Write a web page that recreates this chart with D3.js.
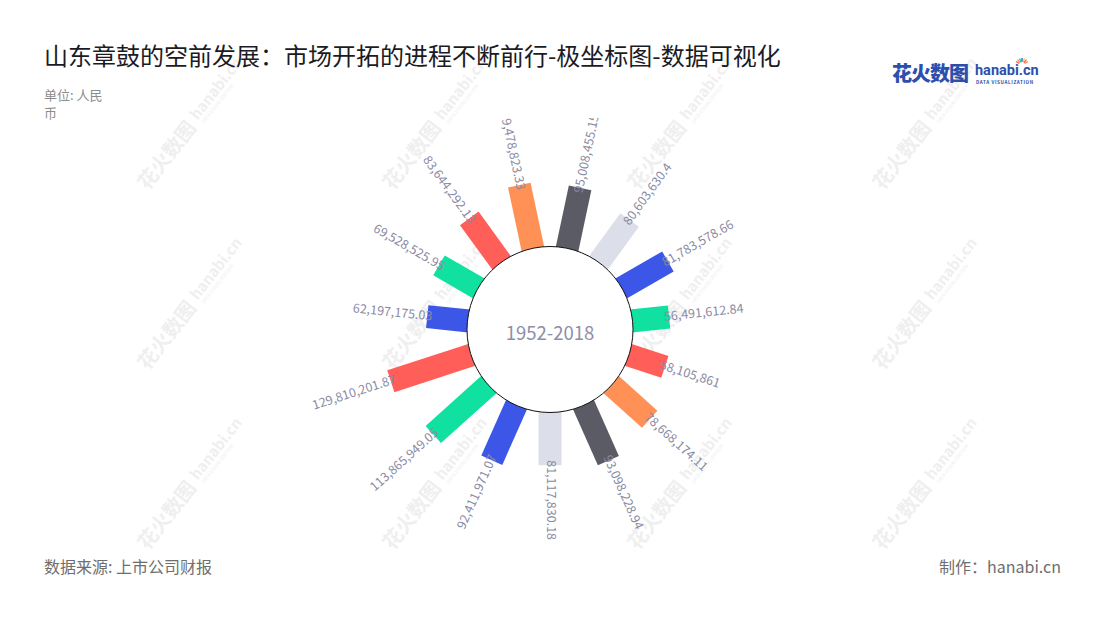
<!DOCTYPE html>
<html>
<head>
<meta charset="utf-8">
<script src="https://cdn.jsdelivr.net/npm/d3@7/dist/d3.min.js"></script>
<style>
  html, body { margin: 0; padding: 0; background: #fff; }
  svg { display: block; font-family: "Noto Sans CJK SC", "Noto Sans", sans-serif; }
</style>
</head>
<body>
<svg id="chart" width="1100" height="620"></svg>
<script>
// ---- data ----
const categories = d3.range(15).map(i => "item" + (i + 1));
const values = [
  95008455.15, 80603630.4, 81783578.66, 56491612.84, 58105861,
  78668174.11, 93098228.94, 81117830.18, 92411971.07, 113865949.05,
  129810201.87, 62197175.03, 69528525.95, 83644292.13, 99478823.33
];
const centerLabel = "1952-2018";
const titleText = "山东章鼓的空前发展：市场开拓的进程不断前行-极坐标图-数据可视化";
const unitLines = ["单位: 人民", "币"];
const sourceText = "数据来源: 上市公司财报";
const creditText = "制作：hanabi.cn";

// ---- style ----
const palette = ["#5b5b66", "#dcdfe9", "#3c57e8", "#10e1a0", "#ff5f58", "#ff9157",
                 "#5b5b66", "#dcdfe9", "#3c57e8", "#10e1a0", "#ff5f58", "#3c57e8",
                 "#10e1a0", "#ff5f58", "#ff9157"];
const W = 1100, H = 620;
const cx = 550, cy = 329.5;
const innerR = 83;

const svg = d3.select("#chart");

// watermarks
const wm = svg.append("g").attr("class", "watermarks");
const wmX = [180, 425, 670, 915], wmY = [140, 320, 500];
wmX.forEach(x => wmY.forEach(y => {
  const g = wm.append("g").attr("transform", `translate(${x},${y}) rotate(-52)`);
  g.append("text").attr("x", -60).attr("y", 6).attr("font-size", 20).attr("font-weight", 700)
    .attr("fill", "#efefef").text("花火数图");
  g.append("text").attr("x", 26).attr("y", 2).attr("font-size", 15).attr("font-weight", 700)
    .attr("fill", "#efefef").text("hanabi.cn");
  g.append("text").attr("x", 27).attr("y", 9).attr("font-size", 5)
    .attr("fill", "#efefef").text("DATA VISUALIZATION");
}));

// title etc.
svg.append("text").attr("x", 44).attr("y", 65).attr("font-size", 24).attr("fill", "#1b1b24")
  .text(titleText);
unitLines.forEach((t, i) => {
  svg.append("text").attr("x", 44).attr("y", 100 + i * 18).attr("font-size", 13)
    .attr("fill", "#8c8c8c").text(t);
});
svg.append("text").attr("x", 44).attr("y", 573).attr("font-size", 16).attr("fill", "#6e6e6e")
  .text(sourceText);
svg.append("text").attr("x", 1061).attr("y", 573).attr("font-size", 16).attr("fill", "#6e6e6e")
  .attr("text-anchor", "end").text(creditText);

// logo
const logo = svg.append("g");
logo.append("text").attr("x", 892).attr("y", 81).attr("font-size", 20).attr("font-weight", 900)
  .attr("fill", "#2c4fae").attr("letter-spacing", -1).text("花火数图");
logo.append("text").attr("x", 975).attr("y", 75).attr("font-size", 14.5).attr("font-weight", 700)
  .attr("fill", "#2c4fae").attr("font-family", "Roboto, sans-serif").text("hanabi.cn");
logo.append("text").attr("x", 976).attr("y", 84).attr("font-size", 4.6).attr("font-weight", 700)
  .attr("fill", "#2c4fae").attr("letter-spacing", 0.6).text("DATA VISUALIZATION");
const sparkColors = ["#ff5f58", "#ff9157", "#10e1a0", "#3c57e8", "#f7c948"];
d3.range(7).forEach(i => {
  const a = (-150 + i * 20) * Math.PI / 180;
  logo.append("line").attr("x1", 1022 + Math.cos(a) * 3).attr("y1", 65 + Math.sin(a) * 3)
    .attr("x2", 1022 + Math.cos(a) * 7).attr("y2", 65 + Math.sin(a) * 7)
    .attr("stroke", sparkColors[i % 5]).attr("stroke-width", 1.4);
});

// ---- polar bar chart ----
const angle = d3.scaleBand().domain(categories).range([0, 360]).paddingInner(0).paddingOuter(0);
const radius = d3.scaleLinear().domain([0, 140000000]).range([innerR, 174]);
const barW = 23;
const fmt = d3.format(",");

const chart = svg.append("g").attr("transform", `translate(${cx},${cy})`);

const bars = chart.append("g");
categories.forEach((c, i) => {
  const a = angle(c) + angle.bandwidth() / 2;
  const rOut = radius(values[i]);
  bars.append("rect")
    .attr("x", -barW / 2).attr("y", -rOut)
    .attr("width", barW).attr("height", rOut - innerR + 4)
    .attr("fill", palette[i])
    .attr("transform", `rotate(${a})`);
});

// inner circle
chart.append("circle").attr("r", innerR).attr("fill", "#fff").attr("stroke", "#111").attr("stroke-width", 1);
chart.append("text").attr("x", 0).attr("y", 5).attr("text-anchor", "middle")
  .attr("dominant-baseline", "middle").attr("font-size", 18.5).attr("fill", "#8e8ea6")
  .text(centerLabel);

// labels (clipped at top like the reference)
svg.append("clipPath").attr("id", "labelClip")
  .append("rect").attr("x", 0).attr("y", 118).attr("width", W).attr("height", 430);
const labels = svg.append("g").attr("clip-path", "url(#labelClip)")
  .append("g").attr("transform", `translate(${cx},${cy})`);
categories.forEach((c, i) => {
  const a = angle(c) + angle.bandwidth() / 2;
  const r = radius(values[i]) - 5;
  const rightSide = a <= 180;
  const rot = rightSide ? a - 90 : a + 90;
  const rad = (a - 90) * Math.PI / 180;
  const x = Math.cos(rad) * r, y = Math.sin(rad) * r;
  labels.append("text")
    .attr("transform", `translate(${x},${y}) rotate(${rot})`)
    .attr("text-anchor", rightSide ? "start" : "end")
    .attr("dominant-baseline", "middle")
    .attr("font-size", 12.5).attr("fill", "#8a8aa3")
    .text(fmt(values[i]));
});
</script>
</body>
</html>
